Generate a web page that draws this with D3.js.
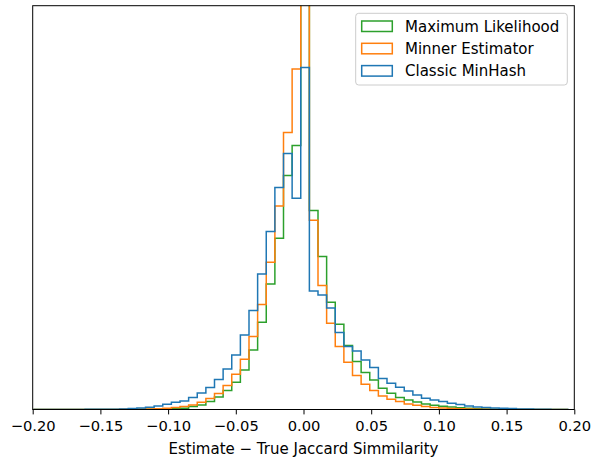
<!DOCTYPE html>
<html>
<head>
<meta charset="utf-8">
<script src="https://cdn.jsdelivr.net/npm/d3@7"></script>
<style>
  html, body { margin: 0; padding: 0; background: #fff; }
  svg { display: block; font-family: "DejaVu Sans", sans-serif; }
</style>
</head>
<body>
<svg id="chart" width="592" height="457"></svg>
<script>
// Histogram bins: lower edge of the first bin and the common bin width
const binStart = -0.1995;
const binWidth = 0.00637;

// Bin heights (arbitrary frequency units), one value per bin, left to right
const maxLikelihood = [
  0, 0, 0, 0, 0, 0, 0, 0, 0.05, 0.05, 0.1, 0.15, 0.2, 0.25,
  0.3, 0.5, 0.8, 1.3, 2.9, 4.6, 7.9, 12.6, 19.1, 27.3, 39.6, 59.6, 87.3, 125.6,
  171.3, 233.9, 263.9, 500, 198.9, 152.9, 107.3, 85.3, 63.9, 47.9, 36.9, 29.6,
  21.3, 16.3, 11.9, 9.6, 7.6, 5.6, 4.3, 3.3, 2.4, 1.7, 1.2, 0.8, 0.5, 0.3, 0.2,
  0.15, 0.1, 0.05, 0, 0, 0, 0
];
const minnerEstimator = [
  0, 0, 0, 0, 0, 0, 0, 0, 0.05, 0.1, 0.15, 0.2,
  0.3, 0.5, 0.8, 1.3, 1.9, 2.9, 4.6, 7.3, 10.9, 16.1, 23.9, 35.3, 50.3, 72.9,
  104.9, 147.3, 203.6, 276.9, 340.6, 560, 189.3, 123.9, 86.3, 62.9, 47.3, 33.9,
  25.3, 18.9, 13.6, 10.3, 7.9, 5.6, 4.3, 2.9, 2.1, 1.5, 1.0, 0.7, 0.4, 0.3, 0.2,
  0.1, 0.05, 0, 0, 0, 0, 0, 0, 0
];
const classicMinHash = [
  0, 0, 0.05, 0.05, 0.1, 0.1, 0.15, 0.2, 0.25, 0.3, 0.6, 0.9, 1.6, 2.3, 3.6,
  5.3, 7.3, 8.6, 12.1, 16.6, 21.9, 30.1, 40.4, 54.6, 74.6, 98.9, 135.6, 177.9,
  221.9, 255.9, 211.3, 341.9, 118.6, 114.6, 101.6, 76.9, 62.9, 58.6, 49.6, 41.9,
  30.9, 26.3, 22.3, 18.6, 14.6, 11.3, 9.6, 7.9, 6.3, 4.9, 3.6, 2.6, 1.9, 1.6,
  1.3, 0.9, 0.6, 0.4, 0.2, 0.15, 0.1, 0.05
];

// Series in drawing order (last drawn on top)
const seriesNames = ["Maximum Likelihood", "Minner Estimator", "Classic MinHash"];
const seriesValues = [maxLikelihood, minnerEstimator, classicMinHash];
const seriesColors = ["#2ca02c", "#ff7f0e", "#1f77b4"];

// Axis
const xDomain = [-0.2, 0.2];
const xTicks = [-0.2, -0.15, -0.1, -0.05, 0, 0.05, 0.1, 0.15, 0.2];
const xLabel = "Estimate \u2212 True Jaccard Simmilarity";
const yMax = 403.8;

const W = 592, H = 457;
const margin = { left: 32.7, right: 17.7, top: 5.7, bottom: 47.5 };
const iw = W - margin.left - margin.right;
const ih = H - margin.top - margin.bottom;

const svg = d3.select("#chart");
const g = svg.append("g").attr("transform", `translate(${margin.left},${margin.top})`);

const x = d3.scaleLinear().domain(xDomain).range([0, iw]);
const y = d3.scaleLinear().domain([0, yMax]).range([ih, 0]);

svg.append("defs").append("clipPath").attr("id", "plotClip")
  .append("rect").attr("x", 0).attr("y", 0).attr("width", iw).attr("height", ih);

// Step outline of a histogram: up the first edge, across each bin, down the last edge
function stepPath(values) {
  const pts = [];
  const e0 = binStart;
  pts.push([x(e0), y(0)]);
  values.forEach((v, i) => {
    const lo = binStart + i * binWidth;
    const hi = lo + binWidth;
    pts.push([x(lo), y(v)]);
    pts.push([x(hi), y(v)]);
  });
  pts.push([x(binStart + values.length * binWidth), y(0)]);
  return d3.line()(pts);
}

const plot = g.append("g").attr("clip-path", "url(#plotClip)");
seriesValues.forEach((vals, k) => {
  plot.append("path")
    .attr("d", stepPath(vals))
    .attr("fill", "none")
    .attr("stroke", seriesColors[k])
    .attr("stroke-width", 1.5)
    .attr("stroke-linejoin", "miter");
});

// x axis
const fmt = v => (v < 0 ? "\u2212" : "") + Math.abs(v).toFixed(2);
const xAxis = g.append("g").attr("transform", `translate(0,${ih})`)
  .call(d3.axisBottom(x).tickValues(xTicks).tickFormat(fmt).tickSize(4.9).tickPadding(4.5));
xAxis.select(".domain").remove();
xAxis.selectAll(".tick line").attr("stroke", "#000").attr("stroke-width", 1);
xAxis.selectAll(".tick text")
  .attr("fill", "#000")
  .style("font-family", "'DejaVu Sans', sans-serif")
  .style("font-size", "14.7px")
  .attr("dy", null)
  .attr("y", 21.9);

// frame
g.append("rect")
  .attr("x", 0).attr("y", 0).attr("width", iw).attr("height", ih)
  .attr("fill", "none").attr("stroke", "#000").attr("stroke-width", 1);

// x label
svg.append("text")
  .attr("x", margin.left + iw / 2)
  .attr("y", 453.5)
  .attr("text-anchor", "middle")
  .style("font-size", "15px")
  .attr("fill", "#000")
  .text(xLabel);

// legend (entries listed top to bottom in drawing order)
const legend = svg.append("g");
legend.append("rect")
  .attr("x", 355.7).attr("y", 13.3).attr("width", 211.6).attr("height", 71.7)
  .attr("rx", 3).attr("ry", 3)
  .attr("fill", "#fff").attr("fill-opacity", 0.8)
  .attr("stroke", "#cccccc").attr("stroke-width", 1);

seriesNames.forEach((name, k) => {
  const rowY = 21 + k * 22.3;
  legend.append("rect")
    .attr("x", 361.7).attr("y", rowY)
    .attr("width", 30.6).attr("height", 10.5)
    .attr("fill", "none")
    .attr("stroke", seriesColors[k])
    .attr("stroke-width", 1.5);
  legend.append("text")
    .attr("x", 405)
    .attr("y", rowY + 10.5)
    .style("font-size", "15px")
    .attr("fill", "#000")
    .text(name);
});
</script>
</body>
</html>
